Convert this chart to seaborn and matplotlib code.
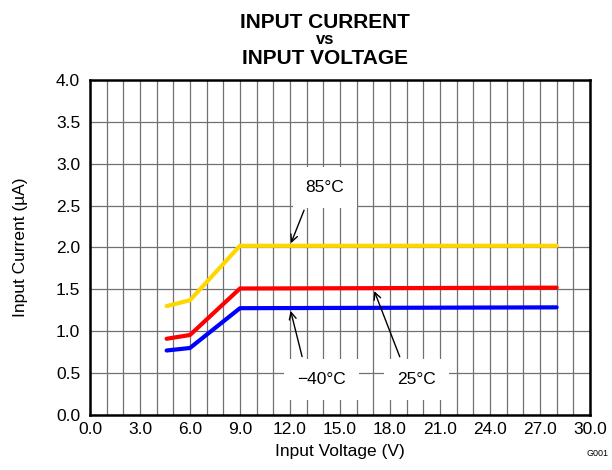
import pandas as pd
import matplotlib
matplotlib.use("Agg")
import matplotlib.pyplot as plt
import seaborn as sns
from matplotlib.ticker import MultipleLocator, FormatStrFormatter

voltage = [4.6, 6.0, 9.0, 28.0]
current_85 = [1.30, 1.37, 2.02, 2.02]
current_25 = [0.91, 0.955, 1.51, 1.52]
current_m40 = [0.77, 0.80, 1.275, 1.285]
series_names = ["85°C", "25°C", "−40°C"]
series_colors = ["#FFD700", "#FF0000", "#0000FF"]

df = pd.DataFrame({
    "Input Voltage (V)": voltage * 3,
    "Input Current (µA)": current_85 + current_25 + current_m40,
    "Temp": [n for n in series_names for _ in voltage],
})

sns.set_style("white")
plt.rcParams["font.family"] = ["Liberation Sans", "DejaVu Sans"]
plt.rcParams["text.color"] = "black"
plt.rcParams["axes.labelcolor"] = "black"
plt.rcParams["xtick.color"] = "black"
plt.rcParams["ytick.color"] = "black"

fig = plt.figure(figsize=(6.12, 4.70), dpi=100)
ax = fig.add_axes([0.147, 0.117, 0.817, 0.713])

sns.lineplot(data=df, x="Input Voltage (V)", y="Input Current (µA)", hue="Temp",
             palette=dict(zip(series_names, series_colors)), linewidth=3,
             legend=False, ax=ax, zorder=3)

ax.set_xlim(0, 30)
ax.set_ylim(0, 4)
ax.xaxis.set_major_locator(MultipleLocator(3))
ax.xaxis.set_minor_locator(MultipleLocator(1))
ax.yaxis.set_major_locator(MultipleLocator(0.5))
ax.xaxis.set_major_formatter(FormatStrFormatter("%.1f"))
ax.yaxis.set_major_formatter(FormatStrFormatter("%.1f"))
ax.grid(which="both", color="#707070", linewidth=0.9)
ax.tick_params(which="both", length=0, labelsize=12.5, colors="black")
ax.tick_params(axis="x", pad=5)
ax.tick_params(axis="y", pad=7)
for s in ax.spines.values():
    s.set_color("black")
    s.set_linewidth(1.8)

ax.set_xlabel("Input Voltage (V)", fontsize=12.5, labelpad=5)
ax.set_ylabel("Input Current (µA)", fontsize=12.5, labelpad=20)

# three-line bold title, tightly stacked as in the original
tx = 325 / 612
fig.text(tx, 1 - 28 / 470, "INPUT CURRENT", fontsize=15, fontweight="bold",
         ha="center", va="baseline")
fig.text(tx, 1 - 44 / 470, "vs", fontsize=12, fontweight="bold",
         ha="center", va="baseline")
fig.text(tx, 1 - 64 / 470, "INPUT VOLTAGE", fontsize=15, fontweight="bold",
         ha="center", va="baseline")

box = dict(boxstyle="square,pad=0.75", fc="white", ec="none")
ax.annotate("85°C", xy=(12, current_85[2]), xytext=(14.1, 2.72), fontsize=12.5,
            ha="center", va="center", bbox=box, zorder=4,
            arrowprops=dict(arrowstyle="->", color="black", lw=1, relpos=(0.12, 0)))
ax.annotate("−40°C", xy=(12, current_m40[2]), xytext=(13.9, 0.42), fontsize=12.5,
            ha="center", va="center", bbox=box, zorder=4,
            arrowprops=dict(arrowstyle="->", color="black", lw=1, relpos=(0.18, 1)))
ax.annotate("25°C", xy=(17, current_25[2]), xytext=(19.6, 0.42), fontsize=12.5,
            ha="center", va="center", bbox=box, zorder=4,
            arrowprops=dict(arrowstyle="->", color="black", lw=1, relpos=(0.22, 1)))

fig.text(0.995, 1 - 453 / 470, "G001", fontsize=6.5, ha="right", va="center")

fig.savefig("out.png", dpi=100)
